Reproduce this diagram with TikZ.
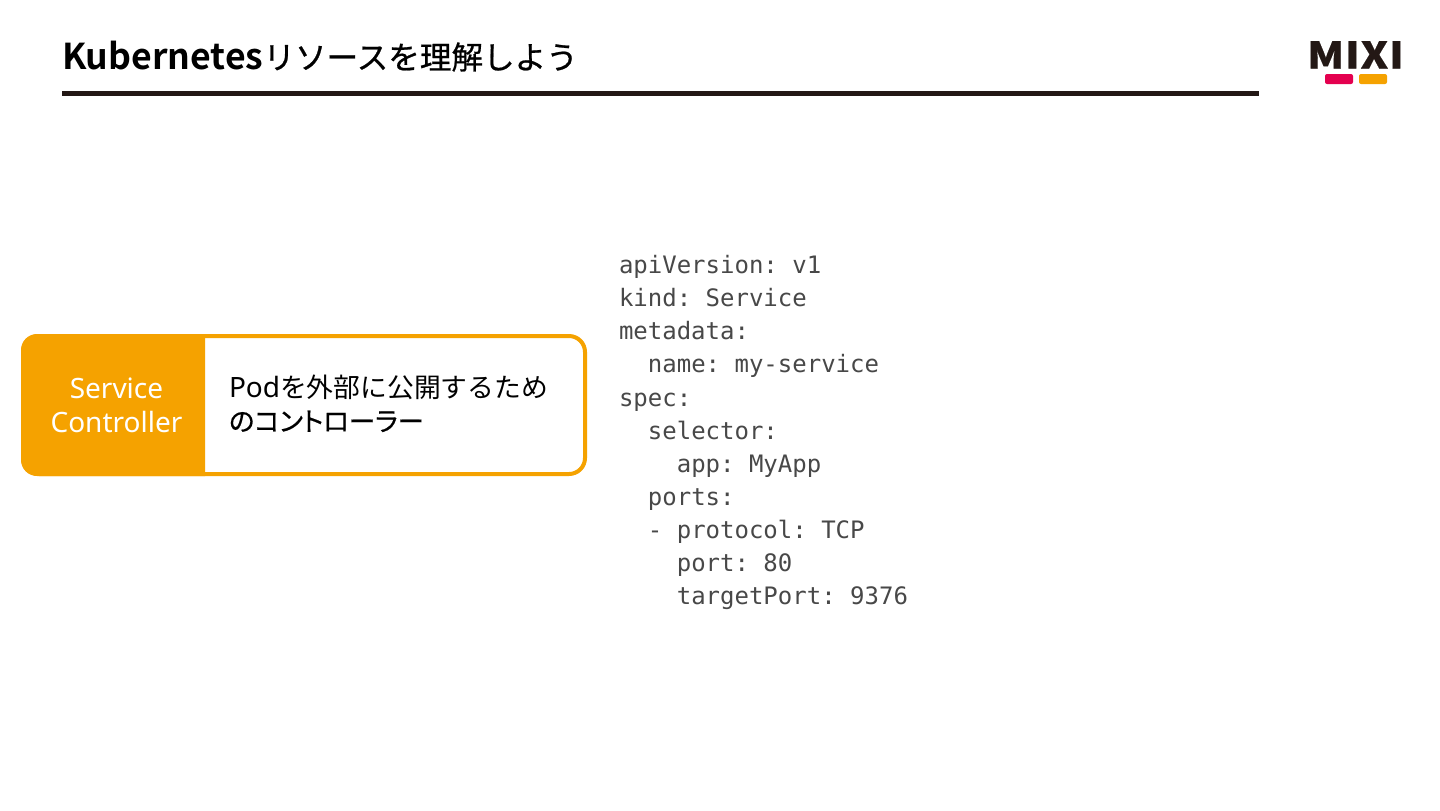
\documentclass[tikz,border=0pt]{standalone}
\usepackage{fontspec}
\setmainfont{Noto Sans}
\newfontfamily\jpreg{Noto Sans CJK JP}
\newfontfamily\jpbold{Noto Sans CJK JP Bold}
\newfontfamily\jpfake[FakeBold=0.6,RawFeature=+palt]{Noto Sans CJK JP}
\newfontfamily\jpmed[FakeBold=0.7]{Noto Sans CJK JP}
\newfontfamily\jpblack[FakeBold=0.5]{Noto Sans CJK JP Black}
\setmonofont{DejaVu Sans Mono}
\definecolor{ink}{HTML}{231815}
\definecolor{amber}{HTML}{F5A200}
\definecolor{crimson}{HTML}{E4004F}
\definecolor{code}{HTML}{484848}
\tikzset{
  txt/.style={inner sep=0pt,outer sep=0pt},
  codeline/.style={txt,anchor=base west,text=code,font=\ttfamily\fontsize{12}{12}\selectfont},
  boxbody/.style={draw=amber,line width=2pt,fill=white,rounded corners=8pt},
  body/.style={txt,anchor=base west,text=black,font=\fontsize{14}{17}\selectfont}
}
\newcommand{\jpa}[1]{{\jpreg\fontsize{13.4}{17}\selectfont #1}}
\newcommand{\jpb}[1]{{\jpfake\fontsize{13.2}{17}\selectfont #1}}
\begin{document}
\begin{tikzpicture}[x=0.5pt,y=-0.5pt]
\useasboundingbox (0,0) rectangle (1440,810);
\fill[white] (0,0) rectangle (1440,810);
% title
\node[txt,anchor=base west,text=black,font=\jpbold\fontsize{17.8}{20}\selectfont] (title) at (62,69) {Kubernetes{\jpmed\fontsize{15.8}{20}\selectfont リソースを理解しよう}};
\coordinate (ruleL) at (62,93);
\coordinate (ruleR) at (1259,93);
\draw[ink,line width=2.5pt] (ruleL) -- (ruleR);
% logo
\node[txt,anchor=base,text=ink,font=\jpblack\fontsize{18.4}{20}\selectfont] (logo) at (1355.5,68.5) {\scalebox{1.15}[1]{M\kern0.3pt I\kern0.3pt X\kern0.3pt I}};
\fill[crimson,rounded corners=1pt] (1325,74) rectangle (1353,84);
\fill[amber,rounded corners=1pt] (1359,74) rectangle (1387,84);
% box
\draw[boxbody] (23,336) rectangle (585,474);
\fill[amber,rounded corners=8pt] (205,334) -- (21,334) -- (21,476) -- (205,476);
\fill[amber] (190,334) rectangle (205,476);
\node[txt,text=white,align=center,font=\fontsize{14}{17}\selectfont] (svc) at (116.5,405.5) {Service\\Controller};
\node[body] (d1) at (229,397.5) {Pod\jpa{を外部に公開するため}};
\node[body] (d2) at (229,431) {\jpb{のコントローラー}};
% code
\node[codeline] (c1) at (619,273.5) {apiVersion: v1};
\node[codeline] (c2) at (619,306.5) {kind: Service};
\node[codeline] (c3) at (619,339.5) {metadata:};
\node[codeline] (c4) at (619,372.5) {\ \ name: my-service};
\node[codeline] (c5) at (619,406) {spec:};
\node[codeline] (c6) at (619,439) {\ \ selector:};
\node[codeline] (c7) at (619,472) {\ \ \ \ app: MyApp};
\node[codeline] (c8) at (619,505) {\ \ ports:};
\node[codeline] (c9) at (619,538) {\ \ - protocol: TCP};
\node[codeline] (c10) at (619,571) {\ \ \ \ port: 80};
\node[codeline] (c11) at (619,604) {\ \ \ \ targetPort: 9376};
\end{tikzpicture}
\end{document}
